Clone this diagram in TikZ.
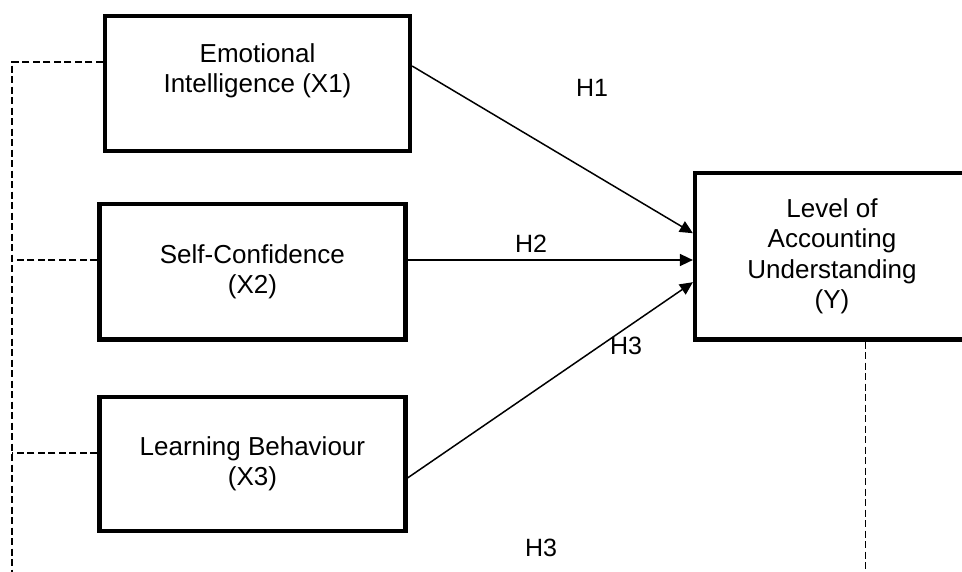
\documentclass[tikz,border=0pt]{standalone}
\usepackage{fontspec}
\setmainfont{Liberation Sans}
\usetikzlibrary{arrows.meta}

\begin{document}
\begin{tikzpicture}[x=1pt, y=-1pt,
  varbox/.style={draw, line width=4.2pt, align=center, inner sep=0pt,
    font=\fontsize{26}{30.5}\selectfont},
  hyp/.style={line width=1.5pt, -{Triangle[length=13pt, width=12pt]}},
  dashlink/.style={line width=1.5pt, dash pattern=on 7pt off 3.5pt},
  hyplabel/.style={anchor=base, font=\fontsize{25}{30}\selectfont}]
  \useasboundingbox (0,0) rectangle (962,572);
  % variables
  \node[varbox, minimum width=305pt, minimum height=135pt] (x1) at (257.5,83.5)
    {Emotional\\Intelligence (X1)\\~};
  \node[varbox, minimum width=306pt, minimum height=135.5pt] (x2) at (252.4,271.8)
    {Self-Confidence\\(X2)};
  \node[varbox, minimum width=306pt, minimum height=134pt] (x3) at (252.4,464)
    {Learning Behaviour\\(X3)};
  \node[varbox, minimum width=274pt, minimum height=166.5pt] (y) at (832,256.2)
    {Level of\\Accounting\\Understanding\\(Y)};
  % hypotheses
  \draw[hyp] ([yshift=17.5pt]x1.east) -- ([yshift=23pt]y.west);
  \draw[hyp] ([yshift=11.8pt]x2.east) -- ([yshift=-3.8pt]y.west);
  \draw[hyp] ([yshift=-14pt]x3.east) -- ([yshift=-26pt]y.west);
  \node[hyplabel] (h1) at (592,97) {H1};
  \node[hyplabel] (h2) at (531,253) {H2};
  \node[hyplabel] (h3) at (626,355) {H3};
  \node[hyplabel] (h3b) at (541,556) {H3};
  % dashed links
  \coordinate (ltop) at (12,62);
  \coordinate (l2) at (12,260);
  \coordinate (l3) at (12,453);
  \coordinate (lbot) at (12,576);
  \coordinate (rbot) at (865.3,576);
  \draw[dashlink] (x1.west |- ltop) -- (ltop) -- (lbot);
  \draw[dashlink] (x2.west |- l2) -- (l2);
  \draw[dashlink] (x3.west |- l3) -- (l3);
  \draw[dashlink] (y.south -| rbot) -- (rbot);
\end{tikzpicture}
\end{document}
